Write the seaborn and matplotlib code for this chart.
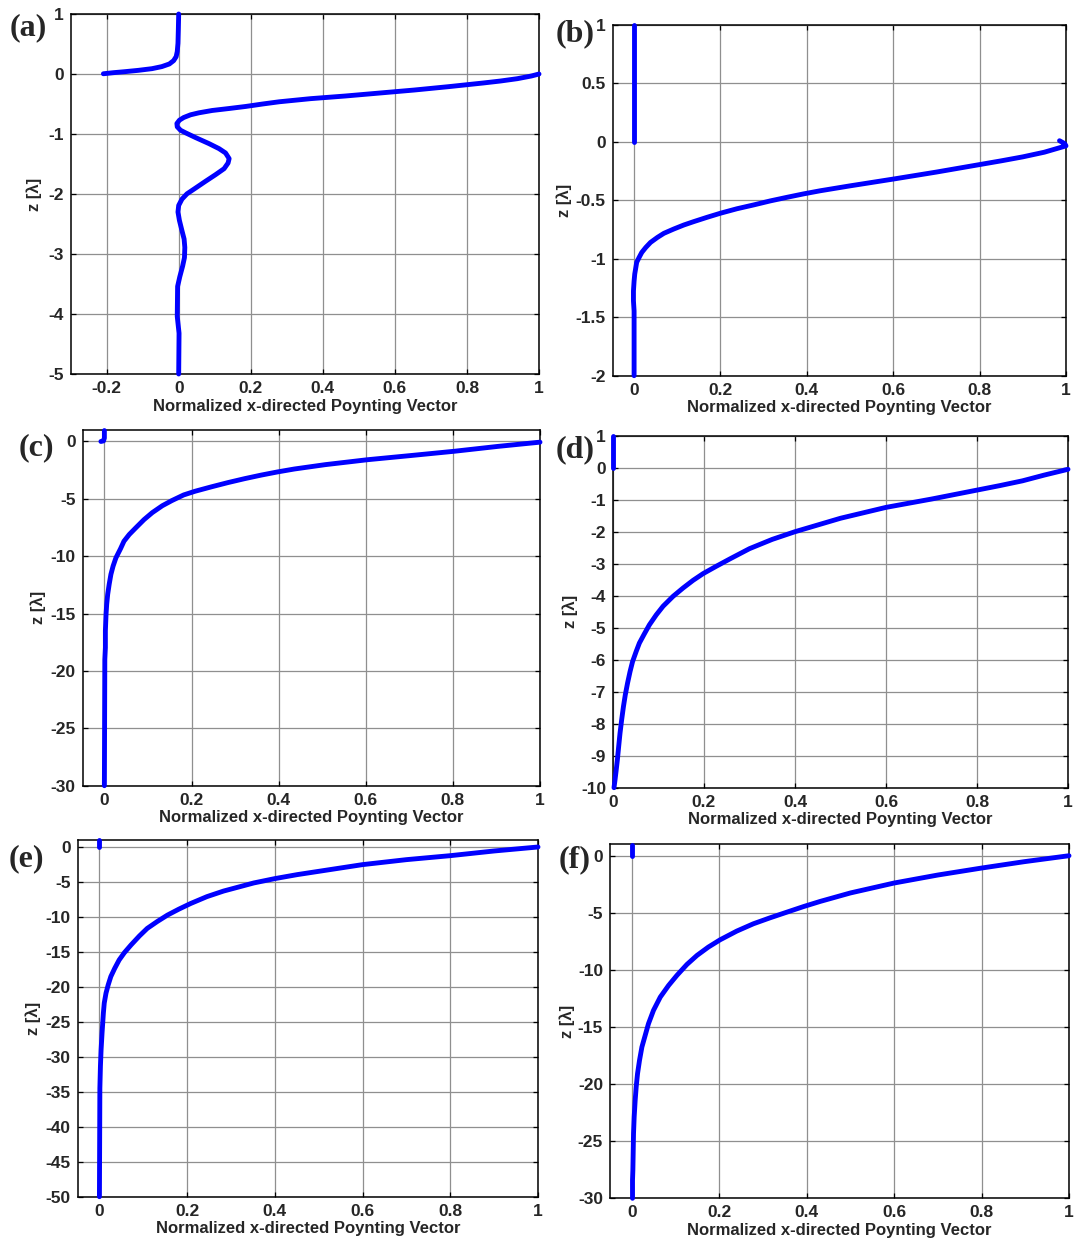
import matplotlib
matplotlib.use("Agg")
import matplotlib.pyplot as plt
import seaborn as sns
import pandas as pd

# ---------------- data ----------------
# (a) two branches: above and below the interface z = 0
a_upper_x = [0.0, -0.001, -0.002, -0.004, -0.007, -0.014, -0.026, -0.047, -0.074, -0.112,
             -0.149, -0.181, -0.209]
a_upper_z = [1.0, 0.736, 0.513, 0.374, 0.29, 0.223, 0.167, 0.123, 0.089, 0.061,
             0.039, 0.022, 0.004]
a_lower_x = [1.0, 0.979, 0.94, 0.893, 0.845, 0.749, 0.654, 0.558, 0.462, 0.366,
             0.279, 0.233, 0.186, 0.14, 0.093, 0.056, 0.033, 0.014, 0.002, -0.005, -0.004,
             0.005, 0.019, 0.047, 0.084, 0.112, 0.13, 0.14, 0.137, 0.126, 0.102, 0.074,
             0.047, 0.023, 0.009, 0.0, -0.002, 0.002, 0.009, 0.015, 0.017, 0.016, 0.011,
             0.003, -0.003, -0.004, 0.001, 0.0]
a_lower_z = [0.0, -0.033, -0.078, -0.117, -0.15, -0.211, -0.267, -0.317, -0.367, -0.411,
             -0.463, -0.50, -0.541, -0.575, -0.608, -0.647, -0.68, -0.725, -0.77, -0.825, -0.88,
             -0.937, -0.98, -1.06, -1.16, -1.244, -1.316, -1.41, -1.484, -1.578, -1.679, -1.79,
             -1.9, -1.997, -2.086, -2.19, -2.30, -2.44, -2.61, -2.75, -2.89, -3.06, -3.2,
             -3.38, -3.54, -4.04, -4.32, -5.0]

# (b)
b_upper_x = [0.0, 0.0]
b_upper_z = [1.0, 0.0]
b_lower_x = [0.985, 0.997, 1.0, 0.95, 0.9, 0.85, 0.8, 0.7, 0.6, 0.5, 0.431, 0.392, 0.354,
             0.315, 0.277, 0.238, 0.2, 0.169, 0.138, 0.115, 0.092, 0.069, 0.054, 0.038, 0.027,
             0.0177, 0.0115, 0.006, 0.004, 0.0015, 0.0, -0.0015, -0.0015, 0.0, 0.0, 0.0]
b_lower_z = [0.01, -0.015, -0.034, -0.088, -0.128, -0.162, -0.194, -0.258, -0.318, -0.376,
             -0.418, -0.445, -0.474, -0.505, -0.539, -0.572, -0.61, -0.645, -0.682, -0.711,
             -0.745, -0.782, -0.817, -0.86, -0.903, -0.946, -0.989, -1.03, -1.075, -1.13,
             -1.19, -1.275, -1.36, -1.447, -1.53, -2.0]

# (c)
c_upper_x = [-0.008, -0.002, 0.0, 0.0]
c_upper_z = [0.0, 0.05, 0.3, 0.95]
c_lower_x = [1.0, 0.903, 0.804, 0.705, 0.604, 0.507, 0.436, 0.398, 0.36, 0.322, 0.284, 0.246,
             0.208, 0.182, 0.155, 0.133, 0.11, 0.091, 0.072, 0.057, 0.045, 0.037, 0.0265,
             0.020, 0.015, 0.011, 0.0076, 0.0053, 0.0038, 0.0023, 0.0023, 0.001, 0.0]
c_lower_z = [-0.06, -0.43, -0.85, -1.22, -1.59, -2.02, -2.4, -2.65, -2.93, -3.24, -3.58, -3.95,
             -4.34, -4.66, -5.15, -5.6, -6.2, -6.81, -7.53, -8.11, -8.69, -9.35, -10.14,
             -10.86, -11.58, -12.45, -13.32, -14.19, -15.06, -16.5, -17.96, -19.0, -30.0]

# (d)
d_upper_x = [0.0, 0.0]
d_upper_z = [1.0, 0.0]
d_lower_x = [1.0, 0.948, 0.9, 0.85, 0.8, 0.7, 0.6, 0.5, 0.4, 0.35, 0.3, 0.257, 0.227, 0.198,
             0.176, 0.154, 0.132, 0.11, 0.095, 0.08, 0.069, 0.058, 0.051, 0.043, 0.0375, 0.032,
             0.027, 0.023, 0.019, 0.0154, 0.0125, 0.0096, 0.0066, 0.0044, 0.0022]
d_lower_z = [-0.05, -0.23, -0.41, -0.56, -0.70, -0.98, -1.24, -1.58, -2.0, -2.24, -2.53, -2.85,
             -3.08, -3.31, -3.52, -3.76, -4.02, -4.33, -4.6, -4.91, -5.19, -5.48, -5.74, -6.06,
             -6.37, -6.73, -7.1, -7.46, -7.88, -8.30, -8.71, -9.13, -9.50, -9.76, -10.0]

# (e)
e_upper_x = [0.0, 0.0]
e_upper_z = [0.95, 0.0]
e_lower_x = [1.0, 0.9, 0.8, 0.7, 0.6, 0.5, 0.451, 0.4, 0.352, 0.283, 0.245,
             0.208, 0.181, 0.155, 0.132, 0.109, 0.091, 0.072, 0.057, 0.045, 0.035, 0.026,
             0.020, 0.015, 0.011, 0.009, 0.0075, 0.006, 0.0038, 0.0023, 0.001, 0.0]
e_lower_z = [0.0, -0.57, -1.24, -1.81, -2.52, -3.48, -3.95, -4.52, -5.14, -6.3, -7.1,
             -8.08, -8.89, -9.74, -10.65, -11.64, -12.73, -14.01, -15.1, -16.15, -17.33, -18.52,
             -19.71, -20.89, -22.31, -23.74, -25.16, -26.58, -28.96, -31.3, -34.5, -50.0]

# (f)
f_upper_x = [0.0, 0.0]
f_upper_z = [0.95, 0.0]
f_lower_x = [1.0, 0.898, 0.8, 0.7, 0.6, 0.5, 0.431, 0.393, 0.354, 0.316, 0.278, 0.24, 0.202,
             0.175, 0.149, 0.126, 0.103, 0.084, 0.065, 0.0495, 0.038, 0.0305, 0.023, 0.0175,
             0.013, 0.0099, 0.0076, 0.0053, 0.0038, 0.003, 0.0023, 0.0015, 0.0015]
f_lower_z = [0.0, -0.52, -1.08, -1.69, -2.39, -3.26, -4.0, -4.45, -4.95, -5.44, -5.96, -6.60,
             -7.36, -8.0, -8.73, -9.52, -10.48, -11.36, -12.38, -13.54, -14.71, -15.73, -16.75,
             -17.92, -19.08, -20.25, -21.41, -22.87, -24.33, -26.08, -27.54, -28.41, -30.0]

# tick values
a_xticks = [-0.2, 0, 0.2, 0.4, 0.6, 0.8, 1]
a_yticks = [-5, -4, -3, -2, -1, 0, 1]
b_xticks = [0, 0.2, 0.4, 0.6, 0.8, 1]
b_yticks = [-2, -1.5, -1, -0.5, 0, 0.5, 1]
c_yticks = [-30, -25, -20, -15, -10, -5, 0]
d_yticks = [-10, -9, -8, -7, -6, -5, -4, -3, -2, -1, 0, 1]
e_yticks = [-50, -45, -40, -35, -30, -25, -20, -15, -10, -5, 0]
f_yticks = [-30, -25, -20, -15, -10, -5, 0]

panel_tags = ["(a)", "(b)", "(c)", "(d)", "(e)", "(f)"]
x_label = "Normalized x-directed Poynting Vector"
y_label = "z [\u03bb]"

# ---------------- style ----------------
sns.set_theme(style="white")
plt.rcParams["font.family"] = ["Liberation Sans", "DejaVu Sans"]
plt.rcParams["axes.unicode_minus"] = False

W, H = 1075, 1245
fig = plt.figure(figsize=(W / 100, H / 100), dpi=100)
fig.patch.set_facecolor("white")


def rect(left, right, top, bottom):
    return [left / W, 1 - bottom / H, (right - left) / W, (bottom - top) / H]


panels = [
    dict(box=rect(70.6, 539, 14, 374), segs=[(a_upper_x, a_upper_z), (a_lower_x, a_lower_z)],
         xlim=(-0.3, 1), ylim=(-5, 1), xt=a_xticks, yt=a_yticks, ylx=-0.062,
         tagpos=(10, 28)),
    dict(box=rect(612.5, 1066, 25, 375.7), segs=[(b_upper_x, b_upper_z), (b_lower_x, b_lower_z)],
         xlim=(-0.05, 1), ylim=(-2, 1), xt=b_xticks, yt=b_yticks, ylx=-0.090,
         tagpos=(556, 34)),
    dict(box=rect(82.6, 540, 430, 785.7), segs=[(c_upper_x, c_upper_z), (c_lower_x, c_lower_z)],
         xlim=(-0.05, 1), ylim=(-30, 1), xt=b_xticks, yt=c_yticks, ylx=-0.081,
         tagpos=(19, 448)),
    dict(box=rect(613, 1068, 435.7, 787.7), segs=[(d_upper_x, d_upper_z), (d_lower_x, d_lower_z)],
         xlim=(0, 1), ylim=(-10, 1), xt=b_xticks, yt=d_yticks, ylx=-0.076,
         tagpos=(556, 450)),
    dict(box=rect(77.5, 538, 840, 1196.7), segs=[(e_upper_x, e_upper_z), (e_lower_x, e_lower_z)],
         xlim=(-0.05, 1), ylim=(-50, 1), xt=b_xticks, yt=e_yticks, ylx=-0.080,
         tagpos=(9, 859)),
    dict(box=rect(610, 1069, 844.3, 1198.3), segs=[(f_upper_x, f_upper_z), (f_lower_x, f_lower_z)],
         xlim=(-0.05, 1), ylim=(-30, 1), xt=b_xticks, yt=f_yticks, ylx=-0.077,
         tagpos=(559, 860)),
]

BLUE = "#0000ff"
for p, tag in zip(panels, panel_tags):
    ax = fig.add_axes(p["box"])
    for sx, sz in p["segs"]:
        df = pd.DataFrame({"x": sx, "z": sz})
        sns.lineplot(data=df, x="x", y="z", sort=False, estimator=None, ax=ax,
                     color=BLUE, linewidth=3.5, solid_capstyle="round",
                     solid_joinstyle="round", zorder=3)
    for ln in ax.get_lines():
        ln.set_clip_on(False)
    ax.set_xlim(*p["xlim"])
    ax.set_ylim(*p["ylim"])
    ax.set_xticks(p["xt"])
    ax.set_yticks(p["yt"])
    ax.set_xticklabels(["%g" % v for v in p["xt"]])
    ax.set_yticklabels(["%g" % v for v in p["yt"]])
    ax.grid(True, color="#8f8f8f", linewidth=0.9, linestyle="-")
    ax.set_axisbelow(True)
    for s in ax.spines.values():
        s.set_color("black")
        s.set_linewidth(1.1)
        s.set_visible(True)
    ax.tick_params(direction="in", length=3.5, width=0.9, color="black",
                   top=True, right=True, bottom=True, left=True,
                   labelsize=12.5, pad=5)
    for lbl in ax.get_xticklabels() + ax.get_yticklabels():
        lbl.set_fontweight("bold")
    ax.set_xlabel(x_label, fontsize=12, fontweight="bold", labelpad=2)
    ax.set_ylabel(y_label, fontsize=12, fontweight="bold")
    ax.yaxis.set_label_coords(p["ylx"], 0.5)
    tx, ty = p["tagpos"]
    fig.text(tx / W, 1 - ty / H, tag, ha="left", va="center",
             fontsize=23, fontweight="bold", family="Liberation Serif")

fig.savefig("out.png", dpi=100, facecolor="white")
